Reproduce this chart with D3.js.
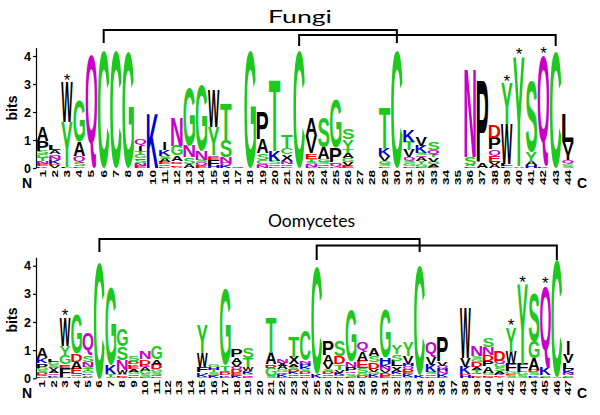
<!DOCTYPE html>
<html><head><meta charset="utf-8">
<script src="https://cdn.jsdelivr.net/npm/d3@7"></script>
<style>body{margin:0;background:#fff}svg{display:block}</style>
</head><body>
<svg id="chart" width="600" height="415"></svg>
<script>
// ---------------- DATA ----------------
const fungiPositions = [1,2,3,4,5,6,7,8,9,10,11,12,13,14,15,16,17,18,19,20,21,22,23,24,25,26,27,28,29,30,31,32,33,34,35,36,37,38,39,40,41,42,43,44];
// each stack: bottom -> top, [residue, bits]
const fungiStacks = [
 [["K",0.06],["E",0.08],["N",0.1],["T",0.12],["G",0.14],["S",0.12],["P",0.35],["A",0.5]],
 [["V",0.1],["D",0.05],["K",0.14],["N",0.12],["Q",0.08],["A",0.14],["L",0.17]],
 [["F",0.05],["Y",1.6],["W",1.4]],
 [["D",0.06],["S",0.12],["Q",0.25],["A",0.52],["G",1.45]],
 [["Q",4.05]],
 [["C",4.2]],
 [["C",4.2]],
 [["G",4.15]],
 [["E",0.08],["N",0.08],["S",0.12],["Q",0.08],["G",0.12],["T",0.12],["I",0.2],["Q",0.25]],
 [["K",1.95]],
 [["D",0.05],["Q",0.08],["E",0.08],["A",0.12],["S",0.1],["K",0.22],["I",0.25]],
 [["A",0.05],["E",0.06],["Q",0.08],["D",0.06],["A",0.2],["G",0.35],["N",1.0]],
 [["A",0.15],["S",0.25],["N",0.4],["G",2.05]],
 [["E",0.08],["Q",0.12],["S",0.1],["N",0.3],["G",2.35]],
 [["H",0.08],["F",0.22],["E",0.08],["Q",0.08],["Y",1.0],["W",1.3]],
 [["K",0.08],["Q",0.1],["N",0.22],["S",0.6],["T",1.3]],
 [["Q",0.05]],
 [["G",4.2]],
 [["N",0.08],["Q",0.06],["C",0.15],["S",0.25],["A",0.5],["P",0.95]],
 [["E",0.06],["Q",0.08],["S",0.12],["K",0.35],["T",2.55]],
 [["E",0.06],["Q",0.08],["N",0.1],["X",0.24],["C",0.25],["T",0.45]],
 [["C",4.2]],
 [["D",0.05],["N",0.08],["S",0.1],["T",0.1],["E",0.2],["V",0.6],["A",0.65]],
 [["E",0.05],["Q",0.08],["S",0.1],["G",0.1],["A",0.4],["S",1.1]],
 [["N",0.06],["Q",0.1],["E",0.05],["P",0.5],["G",1.75]],
 [["E",0.08],["V",0.12],["G",0.15],["A",0.18],["T",0.12],["Y",0.38],["S",0.38]],
 [],
 [],
 [["E",0.06],["S",0.08],["G",0.1],["V",0.18],["K",0.25],["T",1.5]],
 [["C",4.2]],
 [["E",0.06],["G",0.1],["S",0.1],["Q",0.12],["V",0.25],["T",0.3],["K",0.42]],
 [["E",0.05],["G",0.08],["Y",0.12],["A",0.12],["Q",0.08],["S",0.1],["K",0.25],["V",0.32]],
 [["E",0.05],["A",0.08],["G",0.1],["V",0.15],["T",0.1],["Q",0.15],["S",0.3]],
 [],
 [],
 [["E",0.06],["A",0.05],["S",0.3],["N",3.15]],
 [["A",0.2],["P",2.9]],
 [["A",0.12],["V",0.08],["E",0.22],["Q",0.25],["P",0.4],["D",0.45]],
 [["F",0.06],["L",0.1],["W",1.4],["Y",1.45]],
 [["A",0.06],["Y",3.9]],
 [["H",0.1],["A",0.12],["Y",0.35],["S",2.55]],
 [["K",0.06],["Q",3.95]],
 [["C",4.15]],
 [["S",0.1],["G",0.06],["Q",0.12],["I",0.2],["V",0.45],["L",1.0]]
];
const fungiStars = [3,39,40,42];
const fungiBrackets = [[6,30],[22,43]];

const oomyPositions = [1,2,3,4,5,6,7,8,9,10,11,12,13,14,15,16,17,18,19,20,21,22,23,24,25,26,27,28,29,30,31,32,33,34,35,36,37,38,39,40,41,42,43,44,45,46,47];
const oomyStacks = [
 [["E",0.06],["Q",0.06],["D",0.08],["S",0.08],["G",0.1],["P",0.15],["K",0.2],["A",0.38]],
 [["E",0.05],["K",0.06],["Q",0.08],["A",0.1],["V",0.08],["S",0.1],["G",0.12],["L",0.08]],
 [["N",0.05],["F",0.3],["E",0.08],["D",0.06],["G",0.3],["Y",0.35],["W",1.0]],
 [["S",0.06],["Q",0.08],["E",0.2],["A",0.25],["D",0.28],["G",1.4]],
 [["E",0.05],["A",0.06],["K",0.06],["G",0.08],["T",0.08],["S",0.08],["N",0.17],["S",0.25],["Q",0.75]],
 [["C",4.1]],
 [["S",0.06],["T",0.1],["K",0.3],["G",2.75]],
 [["Q",0.05],["E",0.06],["A",0.05],["W",0.15],["N",0.35],["S",0.47],["G",0.6]],
 [["E",0.06],["Q",0.08],["G",0.1],["A",0.1],["E",0.1],["K",0.06],["D",0.1],["S",0.17]],
 [["E",0.05],["S",0.1],["G",0.12],["A",0.12],["Q",0.05],["K",0.05],["D",0.18],["N",0.25]],
 [["E",0.06],["Q",0.06],["S",0.1],["G",0.1],["D",0.17],["A",0.2],["G",0.45]],
 [],
 [],
 [],
 [["S",0.06],["K",0.1],["H",0.06],["F",0.18],["W",0.5],["Y",1.0]],
 [["K",0.08],["E",0.05],["S",0.08],["T",0.1],["H",0.08],["G",0.08]],
 [["E",0.05],["K",0.06],["D",0.1],["Q",0.06],["T",0.2],["G",2.7]],
 [["K",0.08],["E",0.1],["D",0.12],["Q",0.1],["V",0.15],["A",0.2],["P",0.25]],
 [["E",0.05],["Q",0.06],["G",0.05],["K",0.1],["W",0.15],["T",0.3],["S",0.35]],
 [],
 [["S",0.07],["G",0.3],["D",0.08],["E",0.06],["A",0.4],["T",1.25]],
 [["E",0.06],["K",0.08],["Q",0.08],["G",0.1],["A",0.12],["X",0.12],["N",0.12]],
 [["E",0.06],["Q",0.08],["K",0.08],["D",0.08],["S",0.1],["A",0.1],["X",0.25],["T",0.75]],
 [["E",0.06],["Q",0.08],["D",0.08],["S",0.1],["K",0.1],["H",0.1],["N",0.1],["C",1.05]],
 [["K",0.12],["C",3.8]],
 [["E",0.06],["Q",0.08],["D",0.1],["S",0.08],["V",0.2],["A",0.3],["P",0.52]],
 [["E",0.06],["Q",0.06],["K",0.08],["V",0.1],["T",0.2],["D",0.28],["S",0.55]],
 [["E",0.06],["S",0.1],["Q",0.08],["P",0.15],["N",0.2],["G",1.8]],
 [["D",0.08],["G",0.1],["S",0.17],["E",0.28],["A",0.3],["Q",0.32]],
 [["E",0.06],["K",0.08],["G",0.1],["V",0.1],["D",0.22],["S",0.22],["A",0.27]],
 [["E",0.08],["D",0.1],["V",0.1],["N",0.12],["K",0.1],["H",0.22],["G",1.75]],
 [["E",0.06],["Q",0.08],["K",0.1],["X",0.18],["L",0.2],["S",0.25],["Y",0.3]],
 [["S",0.06],["K",0.08],["E",0.08],["D",0.1],["Q",0.1],["H",0.1],["V",0.28],["Y",0.5]],
 [["K",0.1],["C",3.9]],
 [["E",0.06],["Q",0.08],["S",0.08],["K",0.25],["V",0.28],["Q",0.5]],
 [["E",0.06],["K",0.1],["N",0.1],["H",0.08],["Q",0.1],["V",0.15],["P",0.85]],
 [],
 [["H",0.1],["E",0.06],["K",0.25],["V",0.3],["W",1.75]],
 [["K",0.06],["E",0.06],["Q",0.08],["T",0.1],["A",0.1],["D",0.18],["G",0.1],["S",0.1],["N",0.38]],
 [["Q",0.06],["E",0.06],["G",0.08],["A",0.22],["P",0.2],["D",0.22],["N",0.25],["S",0.32]],
 [["T",0.05],["E",0.06],["K",0.06],["A",0.1],["S",0.12],["G",0.12],["Q",0.12],["D",0.35]],
 [["S",0.1],["E",0.06],["G",0.08],["F",0.25],["K",0.06],["W",0.4],["Y",0.85]],
 [["S",0.1],["G",0.12],["F",0.3],["Y",2.8]],
 [["E",0.06],["K",0.06],["S",0.1],["D",0.08],["A",0.4],["G",0.6],["S",1.75]],
 [["E",0.06],["S",0.06],["K",0.25],["Q",2.92]],
 [["S",0.06],["C",4.15]],
 [["E",0.06],["S",0.06],["N",0.08],["K",0.08],["H",0.06],["L",0.2],["V",0.3],["I",0.5]]
];
const oomyStars = [3,42,43,45];
const oomyBrackets = [[6,34],[25,46]];

const yTickValues = [0,1,2,3,4];
const panelTitles = ["Fungi","Oomycetes"];

// ---------------- STYLE ----------------
const GREEN = "#1fc81f", MAGENTA = "#c800c8", BLUE = "#0000cc", RED = "#f00000", BLACK = "#000000";
const colorOf = {G:GREEN,S:GREEN,T:GREEN,Y:GREEN,C:GREEN,N:MAGENTA,Q:MAGENTA,K:BLUE,R:BLUE,H:BLUE,D:RED,E:RED};
const LFONT = "'Liberation Sans', Arial, Helvetica, sans-serif";

const svg = d3.select("#chart");
const ctx = document.createElement("canvas").getContext("2d");
ctx.font = "bold 100px " + LFONT;
const metricCache = {};
function met(ch){
  if(!metricCache[ch]){
    const t = ctx.measureText(ch);
    metricCache[ch] = {L:t.actualBoundingBoxLeft, R:t.actualBoundingBoxRight, A:t.actualBoundingBoxAscent, D:t.actualBoundingBoxDescent};
  }
  return metricCache[ch];
}

function drawPanel(cfg){
  const g = svg.append("g");
  const x = d3.scaleBand().domain(cfg.positions).range([36.5,574]).paddingInner(0.06).paddingOuter(0.03);
  const y = d3.scaleLinear().domain([0,4.3]).range([cfg.y0, cfg.y0 - 4.3*cfg.pxPerBit]);
  const cx = p => x(p) + x.bandwidth()/2;

  // y axis
  const ax = g.append("g").attr("transform","translate(36,0)")
    .call(d3.axisLeft(y).tickValues(yTickValues).tickSize(3).tickSizeOuter(0).tickPadding(2).tickFormat(d3.format("d")));
  ax.select(".domain").attr("stroke","#000").attr("stroke-width",1.2);
  ax.selectAll(".tick line").attr("stroke","#000").attr("stroke-width",1.2);
  ax.selectAll(".tick text").attr("font-family",LFONT).attr("font-weight","bold").attr("font-size",12.5).attr("fill","#000");

  g.append("text").text("bits").attr("transform",`translate(17,${cfg.bitsY}) rotate(-90)`)
    .attr("text-anchor","middle").attr("font-family",LFONT).attr("font-weight","bold").attr("font-size",14);

  // letters
  const hRef = met("H");
  cfg.stacks.forEach((stack,i)=>{
    const pos = cfg.positions[i];
    const x0 = x(pos), w = x.bandwidth();
    let cum = 0;
    stack.forEach(([ch,v])=>{
      const yb = y(cum), yt = y(cum+v); cum += v;
      const h = yb - yt; if(h <= 0) return;
      const mt = met(ch);
      let sx = w/(mt.L+mt.R), xl = x0;
      if(ch === "I"){ sx = w/(hRef.L+hRef.R)*0.9; xl = x0 + (w - sx*(mt.L+mt.R))/2; }
      const sy = h/(mt.A+mt.D);
      g.append("text").text(ch)
        .attr("font-family",LFONT).attr("font-weight","bold").attr("font-size",100)
        .attr("fill",colorOf[ch] || BLACK)
        .attr("transform",`translate(${xl + sx*mt.L},${yb - sy*mt.D}) scale(${sx},${sy})`);
    });
  });

  // stars
  cfg.stars.forEach(p=>{
    const i = cfg.positions.indexOf(p);
    const tot = d3.sum(cfg.stacks[i], d=>d[1]);
    g.append("text").text("*").attr("x",cx(p)).attr("y",y(tot)+3)
      .attr("text-anchor","middle").attr("font-family",LFONT).attr("font-size",17).attr("fill","#000");
  });

  // position labels
  cfg.positions.forEach(p=>{
    g.append("text").text(p)
      .attr("transform",`translate(${cx(p)},${cfg.y0+2}) scale(0.62,1) rotate(-90)`)
      .attr("text-anchor","end").attr("dy","0.36em")
      .attr("font-family",LFONT).attr("font-weight","bold").attr("font-size",13.5).attr("fill","#000");
  });
  g.append("text").text("N").attr("x",27).attr("y",cfg.y0+20).attr("text-anchor","middle")
    .attr("font-family",LFONT).attr("font-weight","bold").attr("font-size",14);
  g.append("text").text("C").attr("x",582).attr("y",cfg.y0+20).attr("text-anchor","middle")
    .attr("font-family",LFONT).attr("font-weight","bold").attr("font-size",14);

  // title
  g.append("text").text(cfg.title).attr("x",268).attr("y",cfg.titleY)
    .attr("font-family","Lato, 'Open Sans', sans-serif").attr("font-size",17.5).attr("fill","#000")
    .attr("textLength",cfg.titleW).attr("lengthAdjust","spacingAndGlyphs");

  // brackets
  cfg.brackets.forEach((b,k)=>{
    const ly = cfg.bracketY[k], ey = cfg.bracketEnd[k];
    const xa = cx(b[0]), xb = cx(b[1]);
    g.append("path").attr("d",`M${xa},${ey}V${ly}H${xb}V${ey}`)
      .attr("fill","none").attr("stroke","#000").attr("stroke-width",2);
  });
}

drawPanel({positions:fungiPositions, stacks:fungiStacks, stars:fungiStars, brackets:fungiBrackets,
  y0:168, pxPerBit:28, bitsY:108, title:panelTitles[0], titleY:23, titleW:64,
  bracketY:[30,35], bracketEnd:[43,46]});
drawPanel({positions:oomyPositions, stacks:oomyStacks, stars:oomyStars, brackets:oomyBrackets,
  y0:378.3, pxPerBit:28.15, bitsY:320, title:panelTitles[1], titleY:227, titleW:87,
  bracketY:[239,245.5], bracketEnd:[252,260]});
</script>
</body></html>
